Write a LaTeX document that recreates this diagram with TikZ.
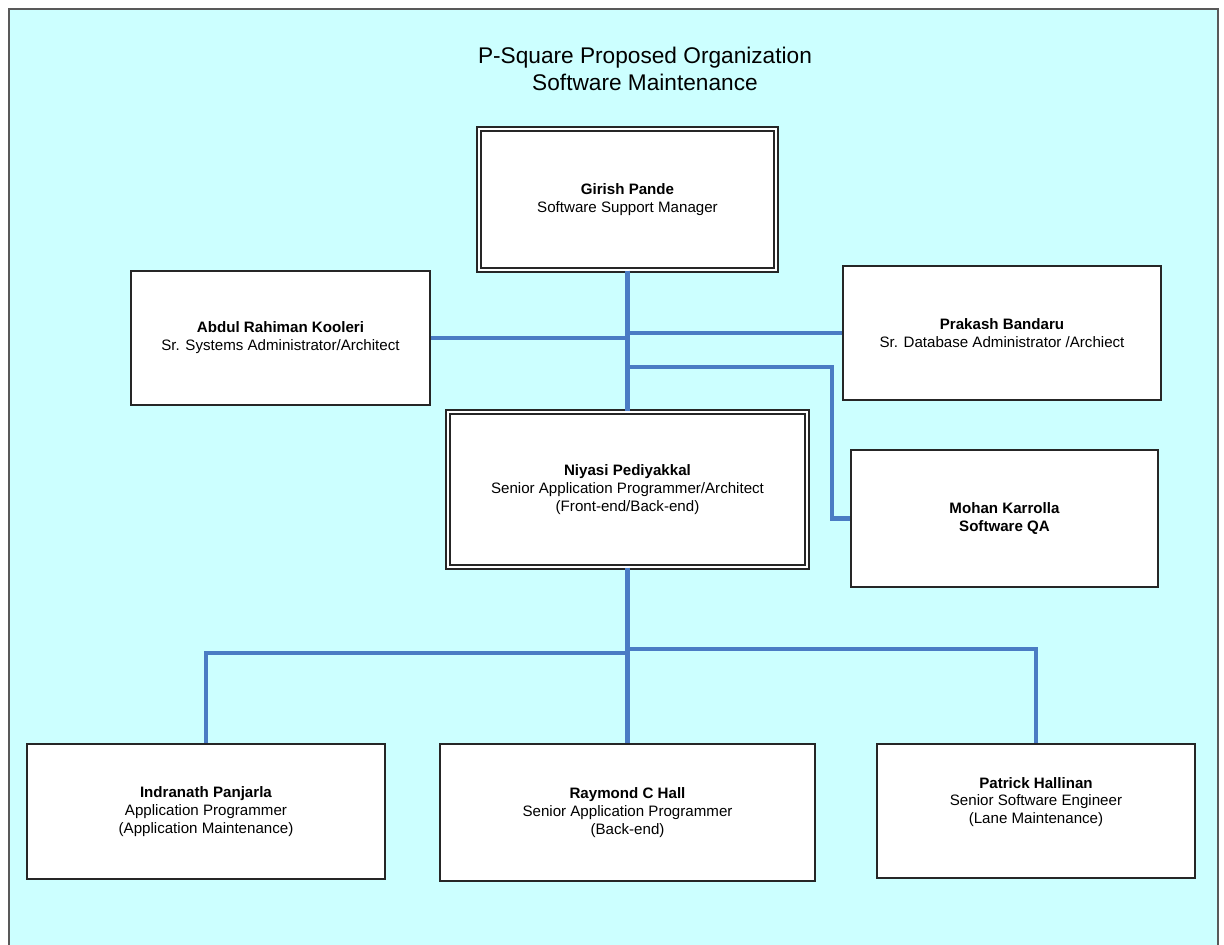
\documentclass[tikz,border=0pt]{standalone}
\usepackage{fontspec}
\setmainfont{Liberation Sans}
\usetikzlibrary{positioning,calc}
\definecolor{paleaqua}{HTML}{CCFFFF}
\definecolor{linkblue}{HTML}{4A7CC4}

\begin{document}
\begin{tikzpicture}[
  x=0.02cm, y=-0.02cm,
  every node/.style={font=\fontsize{8.6}{10.2}\selectfont},
  box/.style={rectangle, draw=black!85, line width=0.7pt, fill=white, align=center, inner sep=0pt},
  dbox/.style={box, double=white, double distance=1.5pt, line width=0.75pt},
  link/.style={draw=linkblue, line width=2.3pt},
  trunk/.style={link, line width=3.4pt}
]

% Frame
\useasboundingbox (0,0) rectangle (1224,944);
\fill[paleaqua, draw=black!65, line width=1.1pt] (9,9) rectangle (1218,970);

% Title
\node[font=\fontsize{12.9}{15.3}\selectfont, align=center] (title) at (645,69)
  {P-Square Proposed Organization\\Software Maintenance};

% Manager
\node[dbox, minimum width=5.94cm, minimum height=2.82cm] (girish) at (627.5,199.5)
  {\textbf{Girish Pande}\\Software Support Manager};
% Staff level
\node[box, minimum width=5.98cm, minimum height=2.68cm] (abdul) at (280.5,338)
  {\textbf{Abdul Rahiman Kooleri}\\Sr. Systems Administrator/Architect};
\node[box, minimum width=6.36cm, minimum height=2.68cm] (prakash) at (1002,333)
  {\textbf{Prakash Bandaru}\\Sr. Database Administrator /Archiect};
\node[dbox, minimum width=7.18cm, minimum height=3.10cm] (niyasi) at (627.5,489.5)
  {\textbf{Niyasi Pediyakkal}\\Senior Application Programmer/Architect\\(Front-end/Back-end)};
\node[box, minimum width=6.14cm, minimum height=2.74cm] (mohan) at (1004.5,518.5)
  {\textbf{Mohan Karrolla}\\\textbf{Software QA}};
% Programmers
\node[box, minimum width=7.16cm, minimum height=2.70cm] (indranath) at (206,811.5)
  {\textbf{Indranath Panjarla}\\Application Programmer\\(Application Maintenance)};
\node[box, minimum width=7.50cm, minimum height=2.74cm] (raymond) at (627.5,812.5)
  {\textbf{Raymond C Hall}\\Senior Application Programmer\\(Back-end)};
\node[box, minimum width=6.36cm, minimum height=2.68cm,
  label={[align=center, yshift=5.1pt]center:{\textbf{Patrick Hallinan}\\Senior Software Engineer\\(Lane Maintenance)}}]
  (patrick) at (1036,811) {};

% Reporting lines
\coordinate (qa) at (832,367);
\coordinate (lbus) at (206,653);
\coordinate (rbus) at (1036,649);

\draw[link] (girish.south) -- (niyasi.north);
\draw[trunk] (girish.south) -- (girish.south |- abdul.east);
\draw[link] (abdul.east) -- (abdul.east -| girish.south);
\draw[link] (prakash.west) -- (prakash.west -| girish.south);
\draw[link] (girish.south |- qa) -- (qa) |- (mohan.west);

\draw[link] (niyasi.south) -- (raymond.north);
\draw[link] (niyasi.south |- lbus) -| (indranath.north);
\draw[link] (niyasi.south |- rbus) -| (patrick.north);

\end{tikzpicture}
\end{document}
